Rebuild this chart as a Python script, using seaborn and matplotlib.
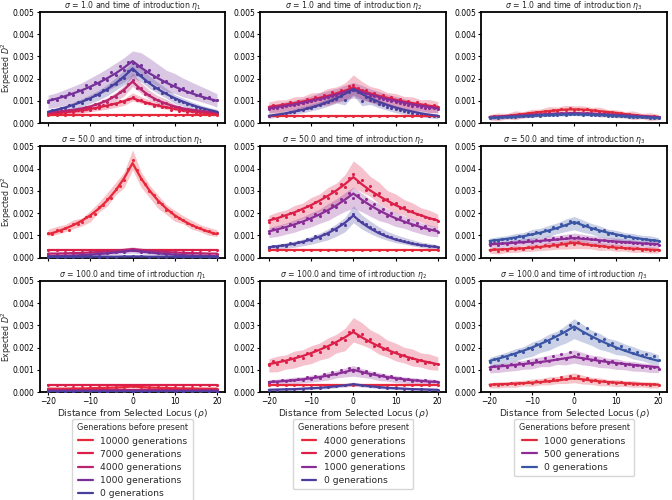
import numpy as np
import matplotlib
matplotlib.use("Agg")
import matplotlib.pyplot as plt
import seaborn as sns
from matplotlib.lines import Line2D

# ---------------- data (values in units of 1e-5) ----------------
SCALE = 1e-5
X_LINE = list(range(-20, 21, 2))
X_DOTS = list(range(-20, 21))

GENS_1 = ["10000 generations", "7000 generations", "4000 generations", "1000 generations", "0 generations"]
GENS_2 = ["4000 generations", "2000 generations", "1000 generations", "0 generations"]
GENS_3 = ["1000 generations", "500 generations", "0 generations"]
COLORS_1 = ["#e8283a", "#dc1f48", "#b8246e", "#74319a", "#473f9e"]
COLORS_2 = ["#e8283a", "#dc1f48", "#8a2c96", "#4b3f9e"]
COLORS_3 = ["#e02a3c", "#8b2b95", "#3b55a5"]
SIGMAS = ["1.0", "50.0", "100.0"]
ETAS = ["1", "2", "3"]

FLAT35 = [35, 35, 35, 35, 35, 35, 35, 35, 35, 35, 35, 35, 35, 35, 35, 35, 35, 35, 35, 35, 35]
FLAT34 = [34, 34, 34, 34, 34, 34, 34, 34, 34, 34, 34, 34, 34, 34, 34, 34, 34, 34, 34, 34, 34]
FLAT33 = [33, 33, 33, 33, 33, 33, 33, 33, 33, 33, 33, 33, 33, 33, 33, 33, 33, 33, 33, 33, 33]
FLAT30 = [30, 30, 30, 30, 30, 30, 30, 30, 30, 30, 30, 30, 30, 30, 30, 30, 30, 30, 30, 30, 30]
FLAT8 = [8, 8, 8, 8, 8, 8, 8, 8, 8, 8, 8, 8, 8, 8, 8, 8, 8, 8, 8, 8, 8]
FLAT4 = [4, 4, 4, 4, 4, 4, 4, 4, 4, 4, 4, 4, 4, 4, 4, 4, 4, 4, 4, 4, 4]
FLAT2 = [2, 2, 2, 2, 2, 2, 2, 2, 2, 2, 2, 2, 2, 2, 2, 2, 2, 2, 2, 2, 2]
HW3 = [3, 3, 3, 3, 3, 3, 3, 3, 3, 3, 3, 3, 3, 3, 3, 3, 3, 3, 3, 3, 3]
HW1 = [1, 1, 1, 1, 1, 1, 1, 1, 1, 1, 1, 1, 1, 1, 1, 1, 1, 1, 1, 1, 1]

# sigma = 1.0, eta_1
s1e1_g7000_line = [42, 45, 49, 53, 58, 64, 71, 79, 88, 99, 112, 99, 88, 79, 71, 64, 58, 53, 49, 45, 42]
s1e1_g7000_dots = [40, 47, 43, 50, 46, 54, 51, 58, 55, 65, 61, 70, 68, 80, 75, 88, 84, 100, 95, 110, 118,
                   102, 104, 90, 92, 78, 82, 71, 73, 60, 66, 55, 61, 50, 56, 47, 52, 44, 48, 41, 44]
s1e1_g7000_hw = [8, 8, 9, 9, 10, 10, 11, 12, 13, 15, 18, 15, 13, 12, 11, 10, 10, 9, 9, 8, 8]
s1e1_g4000_line = [49, 51, 55, 60, 66, 75, 87, 102, 123, 151, 187, 151, 123, 102, 87, 75, 66, 60, 55, 51, 49]
s1e1_g4000_dots = [46, 53, 49, 56, 52, 60, 57, 64, 62, 74, 71, 85, 83, 98, 97, 116, 118, 142, 146, 175, 195,
                   160, 158, 130, 128, 108, 106, 90, 92, 78, 72, 72, 62, 64, 56, 60, 52, 55, 48, 53, 47]
s1e1_g4000_hw = [10, 10, 10, 11, 12, 13, 15, 17, 20, 24, 30, 24, 20, 17, 15, 13, 12, 11, 10, 10, 10]
s1e1_g1000_line = [100, 110, 121, 134, 148, 164, 182, 202, 224, 250, 279, 250, 224, 202, 182, 164, 148, 134, 121, 110, 100]
s1e1_g1000_dots = [96, 110, 104, 120, 116, 135, 128, 148, 140, 170, 158, 185, 175, 205, 196, 228, 218, 255, 240, 275, 270,
                   258, 262, 232, 240, 208, 215, 186, 190, 166, 178, 150, 160, 140, 146, 126, 132, 114, 118, 104, 102]
s1e1_g1000_hw = [30, 32, 35, 38, 42, 45, 48, 50, 52, 55, 55, 55, 52, 50, 48, 45, 42, 38, 35, 32, 30]
s1e1_g0_line = [51, 60, 70, 82, 96, 112, 131, 153, 179, 210, 246, 210, 179, 153, 131, 112, 96, 82, 70, 60, 51]
s1e1_g0_dots = [48, 58, 56, 68, 66, 80, 78, 94, 92, 110, 108, 128, 126, 150, 148, 172, 176, 200, 205, 235, 240,
                222, 218, 190, 184, 160, 158, 136, 134, 116, 108, 100, 94, 86, 80, 72, 68, 62, 58, 54, 50]
s1e1_g0_hw = [12, 13, 14, 16, 18, 20, 22, 25, 28, 32, 36, 32, 28, 25, 22, 20, 18, 16, 14, 13, 12]

# sigma = 1.0, eta_2
s1e2_g2000_line = [73, 78, 84, 90, 97, 105, 114, 123, 134, 146, 160, 146, 134, 123, 114, 105, 97, 90, 84, 78, 73]
s1e2_g2000_dots = [70, 82, 74, 88, 80, 94, 86, 100, 92, 110, 100, 118, 108, 128, 118, 140, 128, 150, 140, 165, 172,
                   158, 148, 150, 130, 134, 118, 128, 108, 116, 98, 108, 92, 100, 86, 94, 80, 88, 76, 82, 72]
s1e2_g2000_hw = [25, 30, 25, 32, 28, 35, 30, 38, 35, 40, 45, 40, 35, 38, 30, 35, 28, 32, 25, 30, 25]
s1e2_g1000_line = [66, 72, 78, 84, 92, 100, 108, 118, 128, 140, 152, 140, 128, 118, 108, 100, 92, 84, 78, 72, 66]
s1e2_g1000_dots = [64, 70, 68, 74, 76, 80, 82, 88, 90, 94, 98, 104, 110, 112, 118, 124, 126, 136, 138, 150, 148,
                   146, 138, 134, 124, 120, 114, 110, 104, 98, 96, 92, 88, 82, 78, 76, 72, 70, 66, 68, 64]
s1e2_g1000_hw = [18, 18, 20, 20, 22, 24, 26, 28, 30, 32, 35, 32, 30, 28, 26, 24, 22, 20, 20, 18, 18]
s1e2_g0_line = [33, 38, 44, 52, 60, 70, 82, 96, 112, 131, 154, 131, 112, 96, 82, 70, 60, 52, 44, 38, 33]
s1e2_g0_dots = [30, 36, 38, 40, 44, 48, 52, 58, 60, 66, 70, 78, 80, 90, 94, 104, 110, 120, 104, 140, 150,
                140, 100, 118, 104, 98, 88, 82, 74, 68, 62, 58, 54, 48, 46, 42, 40, 36, 34, 32, 30]
s1e2_g0_hw = [10, 10, 12, 12, 14, 15, 16, 18, 20, 22, 25, 22, 20, 18, 16, 15, 14, 12, 12, 10, 10]

# sigma = 1.0, eta_3
s1e3_g1000_line = [28, 30, 33, 37, 41, 46, 50, 54, 58, 61, 62, 61, 58, 54, 50, 46, 41, 37, 33, 30, 28]
s1e3_g1000_dots = [26, 32, 28, 34, 31, 36, 35, 40, 38, 46, 44, 50, 48, 55, 52, 58, 56, 62, 60, 66, 60,
                   64, 58, 62, 55, 57, 50, 52, 46, 48, 42, 44, 38, 40, 35, 36, 32, 33, 29, 30, 27]
s1e3_g1000_hw = [12, 18, 12, 20, 14, 18, 15, 22, 16, 20, 18, 20, 16, 22, 15, 18, 14, 20, 12, 18, 12]
s1e3_g500_line = [27, 29, 31, 33, 35, 37, 39, 41, 43, 44, 45, 44, 43, 41, 39, 37, 35, 33, 31, 29, 27]
s1e3_g500_dots = [26, 29, 28, 31, 30, 33, 32, 35, 34, 37, 36, 39, 38, 41, 40, 43, 42, 44, 43, 46, 44,
                  46, 43, 44, 42, 42, 40, 40, 38, 38, 36, 36, 34, 34, 32, 32, 30, 30, 28, 28, 26]
s1e3_g500_hw = [8, 8, 8, 8, 8, 8, 8, 8, 8, 8, 8, 8, 8, 8, 8, 8, 8, 8, 8, 8, 8]
s1e3_g0_line = [24, 25, 27, 29, 31, 33, 35, 37, 38, 39, 40, 39, 38, 37, 35, 33, 31, 29, 27, 25, 24]
s1e3_g0_dots = [22, 26, 24, 27, 26, 29, 28, 31, 30, 33, 32, 35, 34, 37, 36, 38, 37, 40, 38, 42, 40,
                41, 38, 39, 37, 37, 35, 35, 33, 33, 31, 31, 30, 29, 28, 28, 27, 26, 25, 25, 23]
s1e3_g0_hw = [6, 6, 6, 6, 6, 6, 6, 6, 6, 6, 6, 6, 6, 6, 6, 6, 6, 6, 6, 6, 6]

# sigma = 50.0, eta_1
s50e1_g10000_line = [105, 116, 130, 146, 166, 190, 220, 257, 302, 357, 425, 357, 302, 257, 220, 190, 166, 146, 130, 116, 105]
s50e1_g10000_dots = [112, 108, 122, 118, 132, 126, 150, 152, 160, 182, 186, 198, 226, 236, 262, 270, 310, 322, 350, 398, 440,
                     392, 352, 330, 298, 282, 252, 240, 216, 206, 188, 178, 170, 154, 148, 136, 132, 124, 118, 112, 110]
s50e1_g10000_hw = [15, 18, 16, 20, 18, 25, 22, 30, 28, 35, 45, 35, 28, 30, 22, 25, 18, 20, 16, 18, 15]
s50e1_g4000_line = [18, 18, 19, 20, 21, 23, 25, 28, 31, 34, 38, 34, 31, 28, 25, 23, 21, 20, 19, 18, 18]
s50e1_g4000_hw = [5, 5, 5, 5, 5, 6, 6, 7, 8, 9, 10, 9, 8, 7, 6, 6, 5, 5, 5, 5, 5]
s50e1_g1000_line = [6, 7, 8, 9, 11, 13, 16, 19, 23, 27, 32, 27, 23, 19, 16, 13, 11, 9, 8, 7, 6]
s50e1_g1000_hw = [4, 4, 4, 5, 5, 6, 7, 8, 9, 10, 12, 10, 9, 8, 7, 6, 5, 5, 4, 4, 4]
s50e1_g0_line = [3, 3, 3, 3, 3, 4, 4, 4, 4, 5, 5, 5, 4, 4, 4, 4, 3, 3, 3, 3, 3]

# sigma = 50.0, eta_2
s50e2_g2000_line = [167, 177, 190, 203, 219, 236, 256, 278, 302, 330, 362, 330, 302, 278, 256, 236, 219, 203, 190, 177, 167]
s50e2_g2000_dots = [160, 178, 170, 190, 182, 200, 196, 215, 210, 232, 228, 252, 246, 275, 268, 298, 290, 330, 318, 360, 375,
                    340, 350, 305, 320, 280, 292, 258, 262, 240, 244, 224, 226, 210, 208, 198, 192, 184, 178, 172, 165]
s50e2_g2000_hw = [30, 35, 32, 38, 35, 42, 40, 48, 45, 55, 60, 55, 45, 48, 40, 42, 35, 38, 32, 35, 30]
s50e2_g1000_line = [118, 127, 137, 149, 162, 177, 194, 213, 235, 260, 288, 260, 235, 213, 194, 177, 162, 149, 137, 127, 118]
s50e2_g1000_dots = [112, 128, 120, 138, 130, 150, 142, 162, 155, 178, 170, 194, 186, 214, 205, 236, 226, 262, 250, 290, 270,
                    282, 248, 262, 224, 240, 205, 218, 188, 200, 172, 184, 160, 168, 146, 155, 132, 142, 122, 130, 115]
s50e2_g1000_hw = [22, 25, 25, 28, 28, 32, 32, 38, 38, 42, 48, 42, 38, 38, 32, 32, 28, 28, 25, 25, 22]
s50e2_g0_line = [47, 51, 56, 62, 71, 81, 94, 110, 131, 156, 189, 156, 131, 110, 94, 81, 71, 62, 56, 51, 47]
s50e2_g0_dots = [44, 52, 48, 58, 54, 64, 60, 72, 68, 82, 78, 95, 90, 108, 104, 128, 124, 150, 148, 180, 195,
                 170, 160, 150, 136, 128, 115, 108, 98, 92, 85, 80, 76, 70, 66, 62, 58, 55, 52, 50, 46]
s50e2_g0_hw = [10, 12, 12, 14, 15, 18, 20, 24, 28, 32, 38, 32, 28, 24, 20, 18, 15, 14, 12, 12, 10]

# sigma = 50.0, eta_3
s50e3_g1000_line = [34, 36, 38, 40, 42, 45, 48, 52, 56, 61, 67, 61, 56, 52, 48, 45, 42, 40, 38, 36, 34]
s50e3_g1000_dots = [32, 38, 30, 40, 35, 42, 38, 44, 40, 48, 44, 52, 46, 56, 52, 60, 54, 64, 58, 70, 62,
                    68, 60, 62, 55, 58, 50, 54, 48, 50, 44, 47, 42, 44, 38, 41, 36, 38, 34, 36, 33]
s50e3_g1000_hw = [12, 14, 12, 15, 13, 16, 14, 18, 16, 20, 22, 20, 16, 18, 14, 16, 13, 15, 12, 14, 12]
s50e3_g500_line = [60, 62, 64, 67, 69, 72, 75, 78, 81, 84, 88, 84, 81, 78, 75, 72, 69, 67, 64, 62, 60]
s50e3_g500_dots = [58, 64, 56, 66, 62, 70, 64, 74, 70, 78, 72, 80, 76, 84, 80, 88, 82, 92, 86, 96, 90,
                   94, 86, 90, 82, 84, 76, 80, 74, 76, 70, 72, 68, 70, 64, 66, 62, 64, 60, 62, 58]
s50e3_g500_hw = [14, 15, 14, 16, 15, 17, 16, 18, 17, 19, 20, 19, 17, 18, 16, 17, 15, 16, 14, 15, 14]
s50e3_g0_line = [75, 79, 84, 90, 96, 104, 112, 122, 133, 146, 160, 146, 133, 122, 112, 104, 96, 90, 84, 79, 75]
s50e3_g0_dots = [72, 80, 76, 84, 82, 90, 88, 98, 94, 108, 104, 116, 112, 126, 120, 138, 132, 150, 145, 165, 155,
                 160, 142, 148, 130, 134, 118, 122, 108, 112, 100, 102, 94, 96, 88, 90, 84, 85, 80, 78, 74]
s50e3_g0_hw = [15, 18, 16, 20, 18, 22, 20, 25, 24, 28, 30, 28, 24, 25, 20, 22, 18, 20, 16, 18, 15]

# sigma = 100.0, eta_1
s100e1_g10000_line = [15, 15, 15, 16, 16, 17, 18, 19, 20, 22, 25, 22, 20, 19, 18, 17, 16, 16, 15, 15, 15]
s100e1_g10000_hw = [4, 4, 4, 4, 4, 4, 4, 5, 5, 6, 7, 6, 5, 5, 4, 4, 4, 4, 4, 4, 4]

# sigma = 100.0, eta_2
s100e2_g2000_line = [125, 133, 141, 151, 162, 175, 190, 206, 225, 246, 270, 246, 225, 206, 190, 175, 162, 151, 141, 133, 125]
s100e2_g2000_dots = [120, 138, 126, 145, 135, 152, 146, 162, 155, 176, 168, 190, 182, 208, 198, 226, 218, 245, 236, 272, 280,
                     250, 262, 228, 238, 208, 216, 192, 196, 176, 180, 160, 166, 148, 155, 138, 144, 130, 136, 124, 128]
s100e2_g2000_hw = [30, 35, 32, 38, 35, 40, 38, 45, 42, 50, 55, 50, 42, 45, 38, 40, 35, 38, 32, 35, 30]
s100e2_g1000_line = [45, 47, 50, 53, 57, 62, 67, 74, 81, 90, 100, 90, 81, 74, 67, 62, 57, 53, 50, 47, 45]
s100e2_g1000_dots = [42, 50, 44, 52, 48, 56, 52, 60, 55, 66, 60, 72, 64, 80, 72, 90, 80, 100, 88, 110, 95,
                     108, 86, 96, 78, 86, 70, 76, 64, 70, 58, 64, 54, 58, 50, 55, 48, 52, 45, 48, 43]
s100e2_g1000_hw = [12, 14, 13, 15, 14, 16, 15, 18, 17, 20, 24, 20, 17, 18, 15, 16, 14, 15, 13, 14, 12]
s100e2_g0_line = [10, 11, 12, 13, 15, 17, 19, 22, 26, 30, 35, 30, 26, 22, 19, 17, 15, 13, 12, 11, 10]
s100e2_g0_hw = [6, 6, 6, 6, 6, 6, 6, 7, 7, 8, 9, 8, 7, 7, 6, 6, 6, 6, 6, 6, 6]

# sigma = 100.0, eta_3
s100e3_g1000_line = [33, 35, 36, 38, 40, 42, 45, 48, 52, 57, 62, 57, 52, 48, 45, 42, 40, 38, 36, 35, 33]
s100e3_g1000_dots = [30, 36, 32, 38, 34, 40, 36, 42, 40, 46, 42, 50, 46, 56, 50, 60, 54, 66, 58, 72, 64,
                     70, 56, 62, 50, 56, 46, 50, 42, 46, 40, 44, 38, 40, 36, 38, 34, 36, 32, 34, 31]
s100e3_g1000_hw = [12, 14, 12, 15, 13, 16, 14, 18, 16, 20, 22, 20, 16, 18, 14, 16, 13, 15, 12, 14, 12]
s100e3_g500_line = [111, 115, 118, 122, 126, 130, 135, 140, 146, 152, 158, 152, 146, 140, 135, 130, 126, 122, 118, 115, 111]
s100e3_g500_dots = [104, 118, 108, 122, 112, 126, 118, 132, 122, 138, 128, 146, 136, 152, 140, 160, 148, 170, 150, 178, 160,
                    172, 150, 164, 142, 154, 136, 146, 130, 138, 126, 132, 120, 126, 116, 122, 112, 118, 108, 114, 105]
s100e3_g500_hw = [18, 20, 19, 22, 20, 24, 22, 26, 24, 28, 30, 28, 24, 26, 22, 24, 20, 22, 19, 20, 18]
s100e3_g0_line = [140, 150, 161, 173, 186, 200, 216, 233, 252, 272, 295, 272, 252, 233, 216, 200, 186, 173, 161, 150, 140]
s100e3_g0_dots = [134, 150, 142, 162, 155, 172, 166, 186, 178, 200, 192, 216, 208, 234, 224, 252, 240, 275, 260, 300, 285,
                  310, 265, 290, 245, 262, 228, 240, 212, 222, 200, 205, 190, 192, 176, 180, 165, 170, 155, 160, 145]
s100e3_g0_hw = [22, 26, 24, 28, 26, 32, 30, 36, 34, 40, 45, 40, 34, 36, 30, 32, 26, 28, 24, 26, 22]

# (line, dots or None, half-width) per series, ordered as the legends
PANEL_SERIES = {
    (0, 0): [(FLAT35, None, HW3),
             (s1e1_g7000_line, s1e1_g7000_dots, s1e1_g7000_hw),
             (s1e1_g4000_line, s1e1_g4000_dots, s1e1_g4000_hw),
             (s1e1_g1000_line, s1e1_g1000_dots, s1e1_g1000_hw),
             (s1e1_g0_line, s1e1_g0_dots, s1e1_g0_hw)],
    (0, 1): [(FLAT33, None, HW3),
             (s1e2_g2000_line, s1e2_g2000_dots, s1e2_g2000_hw),
             (s1e2_g1000_line, s1e2_g1000_dots, s1e2_g1000_hw),
             (s1e2_g0_line, s1e2_g0_dots, s1e2_g0_hw)],
    (0, 2): [(s1e3_g1000_line, s1e3_g1000_dots, s1e3_g1000_hw),
             (s1e3_g500_line, s1e3_g500_dots, s1e3_g500_hw),
             (s1e3_g0_line, s1e3_g0_dots, s1e3_g0_hw)],
    (1, 0): [(s50e1_g10000_line, s50e1_g10000_dots, s50e1_g10000_hw),
             (FLAT34, None, HW3),
             (s50e1_g4000_line, None, s50e1_g4000_hw),
             (s50e1_g1000_line, None, s50e1_g1000_hw),
             (s50e1_g0_line, None, HW1)],
    (1, 1): [(FLAT33, None, HW3),
             (s50e2_g2000_line, s50e2_g2000_dots, s50e2_g2000_hw),
             (s50e2_g1000_line, s50e2_g1000_dots, s50e2_g1000_hw),
             (s50e2_g0_line, s50e2_g0_dots, s50e2_g0_hw)],
    (1, 2): [(s50e3_g1000_line, s50e3_g1000_dots, s50e3_g1000_hw),
             (s50e3_g500_line, s50e3_g500_dots, s50e3_g500_hw),
             (s50e3_g0_line, s50e3_g0_dots, s50e3_g0_hw)],
    (2, 0): [(s100e1_g10000_line, None, s100e1_g10000_hw),
             (FLAT33, None, HW3),
             (FLAT8, None, HW3),
             (FLAT4, None, HW1),
             (FLAT2, None, HW1)],
    (2, 1): [(FLAT30, None, HW3),
             (s100e2_g2000_line, s100e2_g2000_dots, s100e2_g2000_hw),
             (s100e2_g1000_line, s100e2_g1000_dots, s100e2_g1000_hw),
             (s100e2_g0_line, None, s100e2_g0_hw)],
    (2, 2): [(s100e3_g1000_line, s100e3_g1000_dots, s100e3_g1000_hw),
             (s100e3_g500_line, s100e3_g500_dots, s100e3_g500_hw),
             (s100e3_g0_line, s100e3_g0_dots, s100e3_g0_hw)],
}
COL_GENS = [GENS_1, GENS_2, GENS_3]
COL_COLORS = [COLORS_1, COLORS_2, COLORS_3]

# ---------------- plotting ----------------
sns.set_style("ticks")
plt.rcParams["font.family"] = ["DejaVu Sans"]
plt.rcParams["axes.edgecolor"] = "black"
plt.rcParams["axes.linewidth"] = 1.3
plt.rcParams["xtick.color"] = "black"
plt.rcParams["ytick.color"] = "black"

fig, axes = plt.subplots(3, 3, figsize=(6.72, 5.0), dpi=100, sharex=True)
fig.subplots_adjust(left=0.059, right=0.9926, top=0.976, bottom=0.216,
                    wspace=0.188, hspace=0.21)

for r in range(3):
    for c in range(3):
        ax = axes[r, c]
        colors = COL_COLORS[c]
        for (line, dots, hw), col in zip(PANEL_SERIES[(r, c)], colors):
            if dots is not None:
                centre = dots[::2]
                xd, yd = X_DOTS, dots
            else:
                centre = line
                xd, yd = X_LINE, line
            lo = [(v - w) * SCALE for v, w in zip(centre, hw)]
            hi = [(v + w) * SCALE for v, w in zip(centre, hw)]
            ax.fill_between(X_LINE, lo, hi, color=col, alpha=0.27, lw=0, zorder=1)
            sns.scatterplot(x=xd, y=[v * SCALE for v in yd], ax=ax, color=col,
                            s=5, linewidth=0, zorder=3)
            sns.lineplot(x=X_LINE, y=[v * SCALE for v in line], ax=ax, color=col,
                         lw=1.6, zorder=4)
        ax.set_xlim(-22, 22)
        ax.set_ylim(0, 0.005)
        ax.set_xticks([-20, -10, 0, 10, 20])
        ax.set_yticks([0, 0.001, 0.002, 0.003, 0.004, 0.005])
        ax.set_yticklabels(["0.000", "0.001", "0.002", "0.003", "0.004", "0.005"])
        ax.tick_params(labelsize=5.5, length=2.5, width=0.8, pad=1.2)
        ax.set_title(r"$\sigma$ = %s and time of introduction $\eta_%s$" % (SIGMAS[r], ETAS[c]),
                     fontsize=5.6, pad=1.2)
        for s in ax.spines.values():
            s.set_visible(True)
            s.set_linewidth(1.3)
        if c == 0:
            ax.set_ylabel("Expected $D^2$", fontsize=5.7)
            ax.yaxis.set_label_coords(-0.14, 0.5)
        else:
            ax.set_ylabel("")
        if r == 2:
            ax.set_xlabel(r"Distance from Selected Locus ($\rho$)", fontsize=6.5, labelpad=0.5)
            handles = [Line2D([0], [0], color=col, lw=1.6) for col in colors]
            leg = ax.legend(handles, COL_GENS[c], title="Generations before present",
                            loc="upper center", bbox_to_anchor=(0.5, -0.2),
                            fontsize=6.6, title_fontsize=5.8, frameon=True,
                            handlelength=1.6, labelspacing=0.45, borderpad=0.5)
            leg.get_frame().set_edgecolor("#cccccc")
        else:
            ax.set_xlabel("")

fig.savefig("out.png", dpi=100)
